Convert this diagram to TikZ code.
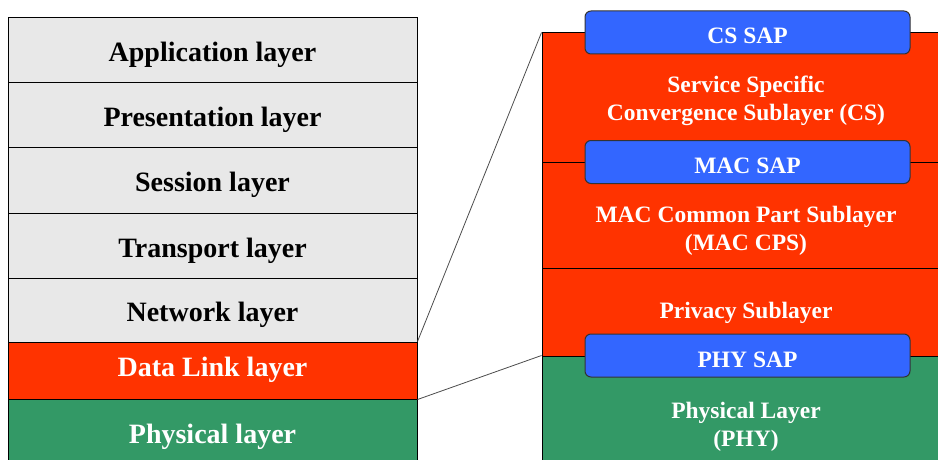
\documentclass[tikz,border=0pt]{standalone}
\usepackage{fontspec}
\setmainfont{Liberation Serif}

\definecolor{osigray}{HTML}{E8E8E8}
\definecolor{linkred}{HTML}{FF3300}
\definecolor{phygreen}{HTML}{339966}
\definecolor{sapblue}{HTML}{3366FF}

\tikzset{
  osi/.style={draw=black, line width=1pt, minimum width=409pt, inner sep=0pt,
    text height=23pt, text depth=0pt, font=\fontsize{28}{32}\selectfont\bfseries},
  sub/.style={draw=black, line width=1pt, minimum width=408pt, inner sep=0pt},
  subtext/.style={text=white, align=center, inner sep=0pt,
    font=\fontsize{23.5}{28}\selectfont\bfseries},
  sap/.style={draw=black!80, line width=1pt, fill=sapblue, rounded corners=6pt,
    minimum width=325pt, minimum height=43pt, inner sep=0pt, text=white,
    text height=23pt, text depth=0pt, font=\fontsize{23.5}{28}\selectfont\bfseries},
  zoomline/.style={draw=black!70, line width=0.8pt}
}

\begin{document}
\begin{tikzpicture}[x=1pt, y=-1pt]
    \useasboundingbox (0, 0) rectangle (938, 460);
    \clip (0, 0) rectangle (938, 460);

    % OSI stack
    \node[osi, fill=osigray, minimum height=65pt] (app) at (212.5, 50.5) {Application layer};
    \node[osi, fill=osigray, minimum height=64pt] (pres) at (212.5, 115) {Presentation layer};
    \node[osi, fill=osigray, minimum height=66pt] (sess) at (212.5, 180) {Session layer};
    \node[osi, fill=osigray, minimum height=65pt] (trans) at (212.5, 245.5) {Transport layer};
    \node[osi, fill=osigray, minimum height=64pt] (net) at (212.5, 310) {Network layer};
    \node[osi, fill=linkred, text=white, text height=11pt, minimum height=57pt] (dl) at (212.5, 370.5) {Data Link layer};
    \node[osi, fill=phygreen, text=white, minimum height=66pt] (phy) at (212.5, 432) {Physical layer};

    % 802.16 stack
    \node[sub, fill=linkred, minimum height=129pt] (cs) at (746, 97.5) {};
    \node[sub, fill=linkred, minimum height=106pt] (cps) at (746, 215) {};
    \node[sub, fill=linkred, minimum height=88pt] (priv) at (746, 312) {};
    \node[sub, fill=phygreen, minimum height=109pt] (rphy) at (746, 410.5) {};

    \node[subtext] (cstext) at (746, 101) {Service Specific\\Convergence Sublayer (CS)};
    \node[subtext] (cpstext) at (746, 231) {MAC Common Part Sublayer\\(MAC CPS)};
    \node[subtext] (privtext) at (746, 313) {Privacy Sublayer};
    \node[subtext] (rphytext) at (746, 427) {Physical Layer\\(PHY)};

    \node[sap] (cssap) at (747.5, 32.5) {CS SAP};
    \node[sap] (macsap) at (747.5, 162) {MAC SAP};
    \node[sap] (physap) at (747.5, 355.5) {PHY SAP};

    % zoom lines
    \draw[zoomline] (dl.north east) -- (cs.north west);
    \draw[zoomline] (dl.south east) -- (rphy.north west);

\end{tikzpicture}
\end{document}
